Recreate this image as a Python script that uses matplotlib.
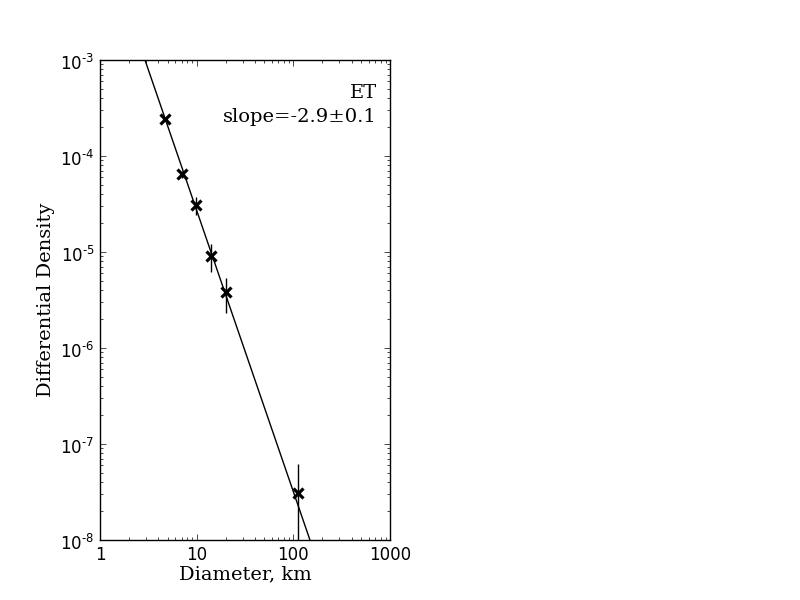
"""
Differential size-frequency plot for ET with a power law fit
"""
import numpy as np
import matplotlib
matplotlib.use('Agg')
import matplotlib.pyplot as plt
import matplotlib.transforms as mtrans
from matplotlib.ticker import FuncFormatter

# Data
diam = np.array([4.7, 7.05, 9.85, 14.1, 20.1, 112.0])
dens = np.array([2.43e-4, 6.5e-5, 3.1e-5, 9.1e-6, 3.8e-6, 3.1e-8])
dens_err = np.array([1.4e-5, 5.5e-6, 6.5e-6, 2.9e-6, 1.5e-6, 3.1e-8])

# power law fit  y = A * D^slope
fit_amp = 0.0231
fit_slope = -2.93

plt.style.use('classic')
plt.rcParams['mathtext.fontset'] = 'dejavusans'
plt.rcParams['axes.unicode_minus'] = False

fig = plt.figure(figsize=(8, 6), dpi=100)
fig.patch.set_facecolor('white')
ax = fig.add_axes([0.125, 0.1, 0.3625, 0.8])

xfit = np.logspace(0, 3, 200)
ax.plot(xfit, fit_amp * xfit**fit_slope, 'k-', lw=1)

ax.errorbar(diam, dens, yerr=dens_err, fmt='x', color='k', ecolor='k',
            ms=7, mew=2.3, elinewidth=1, capsize=0)

ax.set_xscale('log')
ax.set_yscale('log')
ax.set_xlim(1, 1000)
ax.set_ylim(1e-8, 1e-3)

ax.set_xticks([1, 10, 100, 1000])
ax.set_xticklabels(['1', '10', '100', '1000'])

# old style exponent with a plain hyphen
def exp_label(v, pos):
    e = int(round(np.log10(v)))
    return r'$\mathdefault{10^{\text{-}%d}}$' % abs(e) if e < 0 else r'$\mathdefault{10^{%d}}$' % e

ax.yaxis.set_major_formatter(FuncFormatter(exp_label))
# nudge the y tick labels down a little, like the old renderer
shift = mtrans.ScaledTranslation(0, -3 / 72, fig.dpi_scale_trans)
for lab in ax.get_yticklabels():
    lab.set_transform(lab.get_transform() + shift)

ax.set_xlabel('Diameter, km', family='DejaVu Serif', fontsize=14, labelpad=1)
ax.set_ylabel('Differential Density', family='DejaVu Serif', fontsize=14, labelpad=4)

ax.text(0.955, 0.95, 'ET\nslope=-2.9\u00b10.1', transform=ax.transAxes,
        ha='right', va='top', multialignment='right',
        family='DejaVu Serif', fontsize=14, linespacing=1.45)

fig.savefig('out.png', dpi=100, facecolor='white')
